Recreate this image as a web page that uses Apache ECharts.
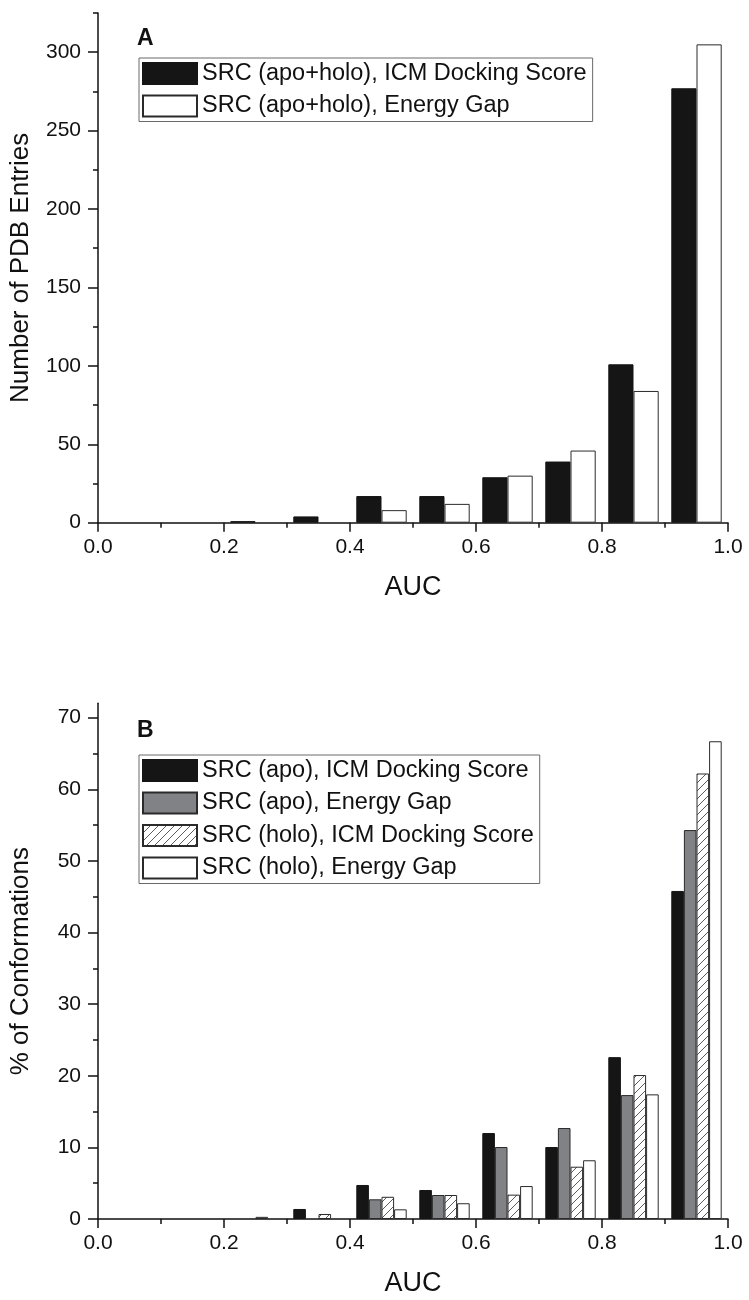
<!DOCTYPE html>
<html>
<head>
<meta charset="utf-8">
<script src="https://cdn.jsdelivr.net/npm/echarts@6/dist/echarts.min.js"></script>
<style>
html,body{margin:0;padding:0;background:#fff;}
#c{width:749px;height:1300px;}
</style>
</head>
<body>
<div id="c"></div>
<script>
// ---- data ----
var bins = ['0.0-0.1','0.1-0.2','0.2-0.3','0.3-0.4','0.4-0.5','0.5-0.6','0.6-0.7','0.7-0.8','0.8-0.9','0.9-1.0'];
var xTickValues = [0, 0.2, 0.4, 0.6, 0.8, 1.0];
var xMinorValues = [0.1, 0.3, 0.5, 0.7, 0.9];
// Panel A: number of PDB entries
var aNamesA = ['SRC (apo+holo), ICM Docking Score', 'SRC (apo+holo), Energy Gap'];
var aIcm = [0, 0, 1, 4, 17, 17, 29, 39, 101, 277];
var aGap = [0, 0, 0, 0, 8, 12, 30, 46, 84, 305];
var aYTicks = [0, 50, 100, 150, 200, 250, 300];
var aYMinor = [25, 75, 125, 175, 225, 275, 325];
// Panel B: % of conformations
var bNames = ['SRC (apo), ICM Docking Score', 'SRC (apo), Energy Gap', 'SRC (holo), ICM Docking Score', 'SRC (holo), Energy Gap'];
var bApoIcm = [0, 0, 0, 1.4, 4.75, 4.05, 12.0, 10.05, 22.6, 45.8];
var bApoGap = [0, 0, 0, 0, 2.75, 3.35, 10.05, 12.7, 17.3, 54.3];
var bHoloIcm = [0, 0, 0.3, 0.7, 3.1, 3.35, 3.4, 7.3, 20.1, 62.2];
var bHoloGap = [0, 0, 0, 0, 1.35, 2.2, 4.6, 8.2, 17.4, 66.7];
var bYTicks = [0, 10, 20, 30, 40, 50, 60, 70];
var bYMinor = [5, 15, 25, 35, 45, 55, 65];

var FONT = "'Liberation Sans', Arial, Helvetica, sans-serif";

function nz(arr){ return arr.map(function(v){ return v === 0 ? '-' : v; }); }

// hatch pattern
var hc = document.createElement('canvas');
hc.width = 8; hc.height = 8;
var hx = hc.getContext('2d');
hx.fillStyle = '#ffffff'; hx.fillRect(0,0,8,8);
hx.strokeStyle = '#4a4a4a'; hx.lineWidth = 0.9;
hx.beginPath();
hx.moveTo(-1, 9); hx.lineTo(9, -1);
hx.moveTo(-1, 1); hx.lineTo(1, -1);
hx.moveTo(7, 9); hx.lineTo(9, 7);
hx.stroke();

var styBlack = {color:'#151515', borderColor:'#151515', borderWidth:1};
var styWhite = {color:'#ffffff', borderColor:'#2a2a2a', borderWidth:1};
var styGray = {color:'#808285', borderColor:'#2a2a2a', borderWidth:1};
var styHatch = {color:{image: hc, repeat:'repeat'}, borderColor:'#2a2a2a', borderWidth:1};

var axisLineSty = {show:true, lineStyle:{color:'#111', width:1.5}};

function xAxesFor(gi){
  return [
    {gridIndex:gi, type:'value', min:0, max:1, position:'bottom',
     name:'AUC', nameLocation:'middle', nameGap:51,
     nameTextStyle:{fontSize:27, color:'#111', fontFamily:FONT},
     axisLine:axisLineSty,
     axisTick:{show:true, inside:false, length:9, customValues:xTickValues, lineStyle:{color:'#111', width:1.5}},
     axisLabel:{show:true, margin:14, fontSize:21, color:'#111', fontFamily:FONT, customValues:xTickValues,
       formatter:function(v){ return Number(v).toFixed(1); }},
     splitLine:{show:false}},
    {gridIndex:gi, type:'value', min:0, max:1, position:'bottom',
     axisLine:{show:false},
     axisTick:{show:true, inside:false, length:5, customValues:xMinorValues, lineStyle:{color:'#111', width:1.5}},
     axisLabel:{show:false}, splitLine:{show:false}},
    {gridIndex:gi, type:'category', data:bins, show:false, boundaryGap:true}
  ];
}
function yAxesFor(gi, max, ticks, minor, name, gap){
  return [
    {gridIndex:gi, type:'value', min:0, max:max, position:'left',
     name:name, nameLocation:'middle', nameGap:gap, nameRotate:90,
     nameTextStyle:{fontSize:26, color:'#111', fontFamily:FONT},
     axisLine:axisLineSty,
     axisTick:{show:true, inside:false, length:10, customValues:ticks, lineStyle:{color:'#111', width:1.5}},
     axisLabel:{show:true, margin:17, fontSize:21, color:'#111', fontFamily:FONT, customValues:ticks},
     splitLine:{show:false}},
    {gridIndex:gi, type:'value', min:0, max:max, position:'left',
     axisLine:{show:false},
     axisTick:{show:true, inside:false, length:5, customValues:minor, lineStyle:{color:'#111', width:1.5}},
     axisLabel:{show:false}, splitLine:{show:false}}
  ];
}

var legendCommon = {
  orient:'vertical', icon:'rect', itemWidth:54, itemHeight:21, itemGap:8.5,
  padding:[3.5, 6, 3.5, 3], borderColor:'#6a6a6a', borderWidth:1, backgroundColor:'#fff',
  selectedMode:false,
  textStyle:{fontSize:23.5, color:'#111', fontFamily:FONT, lineHeight:21}
};

var option = {
  animation:false,
  backgroundColor:'#ffffff',
  title:[
    {text:'A', left:137, top:27, padding:0, textStyle:{fontSize:23, fontWeight:'bold', color:'#111', fontFamily:FONT}},
    {text:'B', left:137, top:719, padding:0, textStyle:{fontSize:23, fontWeight:'bold', color:'#111', fontFamily:FONT}}
  ],
  legend:[
    Object.assign({}, legendCommon, {left:139, top:58, data:aNamesA}),
    Object.assign({}, legendCommon, {left:139, top:755, data:bNames})
  ],
  grid:[
    {left:96, top:13, width:632, height:509.7, containLabel:false},
    {left:96, top:703.3, width:632, height:515.7, containLabel:false}
  ],
  xAxis: xAxesFor(0).concat(xAxesFor(1)),
  yAxis: yAxesFor(0, 325, aYTicks, aYMinor, 'Number of PDB Entries', 64)
          .concat(yAxesFor(1, 72, bYTicks, bYMinor, '% of Conformations', 64)),
  series:[
    {type:'bar', name:aNamesA[0], xAxisIndex:2, yAxisIndex:0, data:nz(aIcm), barGap:'0%', barCategoryGap:'20%', itemStyle:styBlack},
    {type:'bar', name:aNamesA[1], xAxisIndex:2, yAxisIndex:0, data:nz(aGap), barGap:'0%', barCategoryGap:'20%', itemStyle:styWhite},
    {type:'bar', name:bNames[0], xAxisIndex:5, yAxisIndex:2, data:nz(bApoIcm), barGap:'0%', barCategoryGap:'20%', itemStyle:styBlack},
    {type:'bar', name:bNames[1], xAxisIndex:5, yAxisIndex:2, data:nz(bApoGap), barGap:'0%', barCategoryGap:'20%', itemStyle:styGray},
    {type:'bar', name:bNames[2], xAxisIndex:5, yAxisIndex:2, data:nz(bHoloIcm), barGap:'0%', barCategoryGap:'20%', itemStyle:styHatch},
    {type:'bar', name:bNames[3], xAxisIndex:5, yAxisIndex:2, data:nz(bHoloGap), barGap:'0%', barCategoryGap:'20%', itemStyle:styWhite}
  ]
};

var chart = echarts.init(document.getElementById('c'), null, {renderer:'canvas', width:749, height:1300});
chart.setOption(option);
</script>
</body>
</html>
